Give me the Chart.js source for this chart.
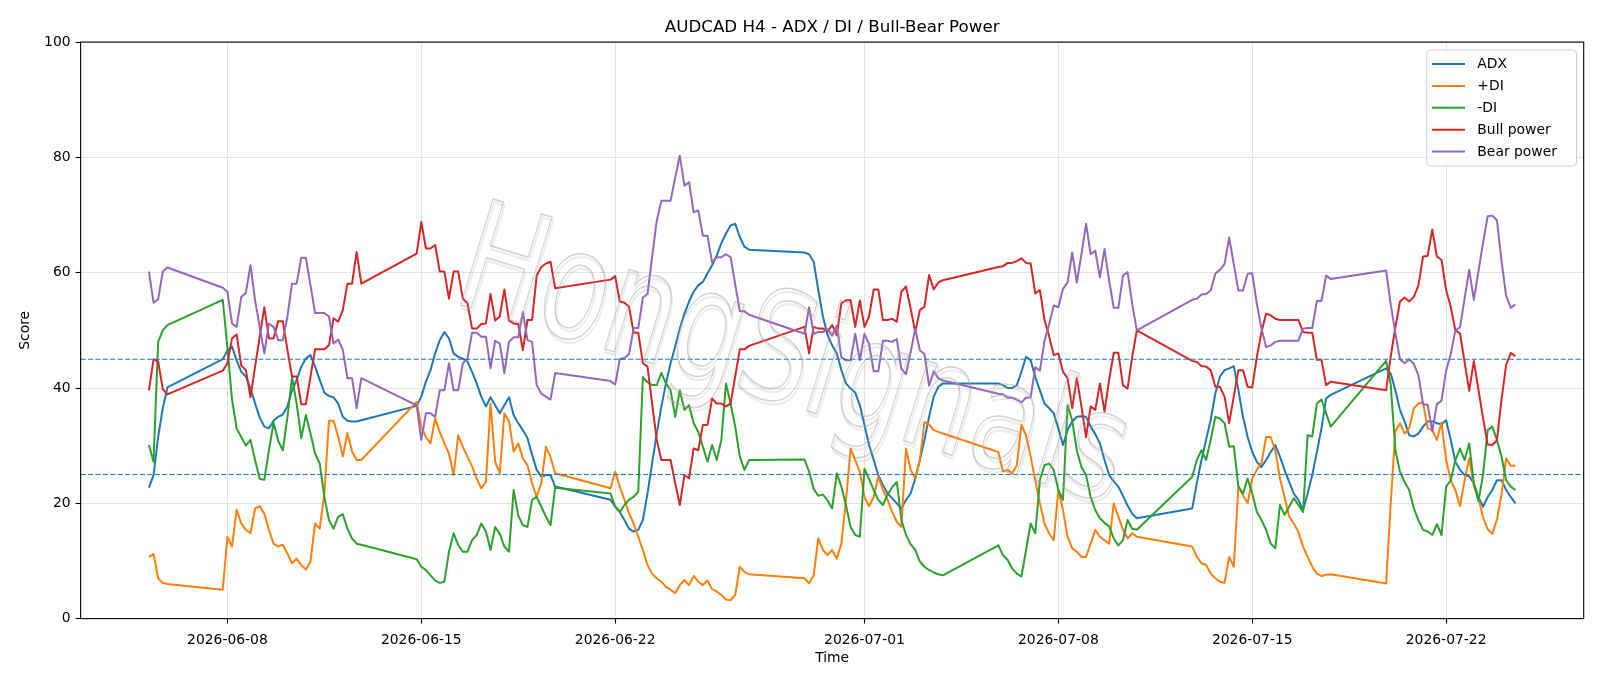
<!DOCTYPE html>
<html><head><meta charset="utf-8">
<script src="https://cdn.jsdelivr.net/npm/chart.js@4.4.1/dist/chart.umd.min.js"></script>
<style>html,body{margin:0;padding:0;background:#fff;}canvas{display:block;}</style>
</head><body>
<canvas id="c" width="1600" height="686"></canvas>
<script>
// H4 trading sessions: [first bar time (UTC), number of 4-hour bars]
const sessions = [
  ["2026-06-05T04:00", 5],
  ["2026-06-07T20:00", 31],
  ["2026-06-14T20:00", 31],
  ["2026-06-21T20:00", 31],
  ["2026-06-28T20:00", 31],
  ["2026-07-05T20:00", 31],
  ["2026-07-12T20:00", 31],
  ["2026-07-19T20:00", 29]
];
const tickDates = ["2026-06-08","2026-06-15","2026-06-22","2026-07-01","2026-07-08","2026-07-15","2026-07-22"];
const yTicks = [0,20,40,60,80,100];
const refLevels = [25, 45];

const adx = [
  22.7,24.9,31.5,36.5,40.1,
  45.0,46.5,47.2,44.8,42.8,42.0,39.9,37.3,34.9,33.3,33.0,34.3,35.0,35.4,36.8,39.6,41.4,43.7,45.1,45.7,43.7,41.4,39.2,38.6,38.4,37.3,35.0,34.3,34.2,34.2,34.4,
  36.9,38.5,41.1,43.1,46.0,48.3,49.7,48.6,46.0,45.4,45.1,44.6,42.8,40.8,38.5,36.8,38.4,37.0,35.6,37.0,38.4,35.3,33.9,32.7,31.3,28.4,25.8,24.6,24.9,24.9,22.9,
  20.6,19.4,18.5,17.1,15.6,15.1,15.4,17.1,21.7,26.9,32.1,36.8,40.8,44.3,47.2,50.3,52.9,55.0,56.7,57.8,58.4,59.9,61.3,63.0,65.1,66.8,68.2,68.5,66.2,64.5,64.0,
  63.5,63.2,61.9,57.0,52.4,49.2,47.4,46.0,43.1,40.8,39.9,39.2,37.0,33.6,30.1,27.5,24.9,23.2,21.7,20.9,20.0,19.1,20.6,21.7,24.3,27.5,31.0,35.0,38.5,40.2,40.8,
  40.8,40.5,40.0,40.0,40.5,42.8,45.4,44.8,41.9,39.6,37.3,36.5,35.6,33.0,30.1,32.7,34.2,35.0,35.1,35.0,33.3,32.0,30.4,27.5,24.9,23.8,22.9,21.3,19.6,18.2,17.4,
  19.1,23.5,27.5,31.0,34.5,39.0,42.0,43.1,43.4,43.8,39.6,35.0,31.5,28.9,27.2,26.3,27.5,28.9,30.1,28.1,25.8,23.7,21.7,20.6,18.8,21.7,24.9,28.9,33.0,38.2,38.8,
  43.4,42.5,39.6,36.2,34.2,31.8,31.6,32.1,33.3,34.2,34.2,33.9,33.7,34.4,31.0,27.2,25.8,24.9,24.7,23.5,21.1,19.4,21.1,22.3,24.0,24.0,22.3,21.1,20.0
];
const plusDI = [
  10.7,11.2,7.0,6.2,6.0,
  5.0,14.2,12.5,18.9,16.5,15.4,14.8,19.1,19.5,18.2,15.4,13.0,12.5,12.8,11.3,9.6,10.4,9.3,8.5,9.9,16.5,15.6,21.7,34.3,34.3,31.6,28.1,32.2,29.0,27.5,27.5,
  37.6,33.3,31.5,30.4,34.7,32.4,30.4,28.6,24.9,31.8,29.8,28.1,26.4,24.3,22.6,23.7,37.3,27.2,25.2,35.6,34.2,29.0,30.4,27.8,26.6,23.5,21.1,23.5,29.8,28.0,25.2,
  22.6,25.5,22.9,20.6,18.3,16.5,14.2,11.9,9.3,7.8,7.0,6.4,5.5,5.0,4.4,5.8,6.7,5.8,7.4,6.4,5.8,6.6,5.1,4.7,4.1,3.3,3.2,4.1,9.0,8.1,7.7,
  7.0,6.1,7.5,13.9,11.9,11.0,11.9,10.4,13.0,20.5,29.5,27.5,25.5,21.1,19.5,21.1,24.6,22.3,20.6,18.5,16.8,15.9,29.5,25.8,24.3,27.5,34.1,33.7,32.7,32.4,32.1,
  28.9,25.5,25.8,25.2,26.6,33.6,31.8,28.1,24.0,20.0,16.5,14.8,13.6,22.3,18.8,14.2,12.2,11.6,10.7,10.7,13.0,15.4,14.2,13.6,13.0,20.0,17.7,15.4,13.9,14.8,14.2,
  12.5,10.7,9.6,9.3,7.8,7.0,6.4,6.2,10.7,9.0,22.9,21.4,20.0,24.3,25.8,27.0,31.5,31.5,29.2,24.3,21.1,17.7,16.5,15.0,12.5,10.7,9.0,7.8,7.4,7.6,7.7,
  6.1,20.0,32.5,33.9,32.1,33.0,36.5,37.3,37.5,33.0,32.7,31.0,34.0,27.5,24.0,22.3,19.5,24.0,27.8,23.0,21.0,17.5,15.5,14.7,17.2,21.5,27.8,26.5,26.5
];
const minusDI = [
  30.1,27.2,48.0,50.0,50.9,
  55.3,47.0,38.0,33.0,31.5,30.0,31.0,27.5,24.2,24.1,29.2,34.0,30.8,29.2,34.9,41.9,37.3,31.3,35.3,32.1,28.6,26.9,21.1,17.1,15.6,17.7,18.1,15.6,13.9,13.0,12.8,
  10.3,9.0,8.4,7.5,6.6,6.2,6.4,11.6,14.8,12.8,11.6,11.6,13.6,14.5,16.5,15.1,11.9,15.9,14.7,12.5,11.6,22.3,17.9,16.2,15.9,20.6,21.1,19.4,17.7,16.2,22.7,
  21.7,19.4,18.5,19.7,20.6,21.1,22.0,41.9,41.0,40.5,40.5,42.6,40.8,39.6,35.0,39.6,36.2,37.0,33.9,32.4,29.8,27.2,30.1,27.5,31.0,40.8,37.3,33.3,28.1,25.8,27.5,
  27.6,25.5,22.5,21.3,21.5,20.5,19.1,25.2,22.9,19.6,15.9,14.5,14.2,26.0,24.2,22.3,20.6,19.7,21.5,22.8,23.7,17.1,14.5,12.9,11.9,9.9,9.0,8.4,8.0,7.7,7.5,
  12.7,11.0,10.2,8.7,7.8,7.3,11.9,16.5,14.8,24.0,26.6,26.9,25.8,22.3,20.6,37.0,34.4,29.2,26.3,24.9,21.1,18.8,17.4,16.6,16.0,13.9,12.7,13.6,17.1,15.6,15.4,
  24.6,27.5,29.2,27.5,31.0,35.0,34.7,33.9,29.8,29.9,22.9,21.7,24.3,21.7,18.5,17.1,15.4,13.0,12.2,19.7,18.0,19.4,20.9,19.7,18.5,31.8,31.6,37.3,38.0,35.6,33.3,
  44.7,40.6,29.2,25.5,23.7,22.3,19.1,17.1,15.4,15.1,14.5,16.4,14.5,22.9,24.0,27.5,29.5,27.5,30.4,23.5,20.3,25.0,32.7,33.3,31.0,28.1,24.0,22.9,22.3
];
const bullPower = [
  39.6,45.0,44.6,39.8,38.9,
  43.0,44.3,48.6,49.3,43.9,43.1,38.4,43.7,48.9,54.0,48.6,48.6,51.6,51.6,46.6,42.0,42.0,37.2,37.2,42.0,46.7,46.7,46.7,47.4,52.1,51.5,53.5,58.1,58.1,63.6,58.1,
  63.3,68.8,64.2,64.2,64.8,60.2,60.2,55.5,60.2,60.2,55.5,54.7,50.3,50.3,51.1,51.2,56.3,51.7,52.4,57.1,51.7,51.2,51.1,46.6,51.8,51.8,59.5,61.0,61.6,61.9,57.3,
  58.8,59.4,55.0,54.8,54.1,49.6,49.6,44.3,43.7,37.3,31.0,27.5,27.5,27.5,23.5,19.7,24.9,24.3,29.5,29.2,33.6,33.6,38.2,37.3,37.3,36.8,37.3,42.0,46.7,46.7,47.3,
  50.6,46.0,50.6,50.3,50.3,49.8,50.9,49.2,54.7,55.2,55.2,50.6,55.2,50.6,52.4,57.1,57.1,51.8,51.8,52.0,51.5,56.7,57.6,53.8,49.7,53.5,54.1,59.6,57.1,58.3,58.7,
  61.0,61.1,61.7,61.7,62.0,62.5,61.7,61.6,56.4,57.0,51.8,49.0,45.7,46.0,42.8,41.7,36.5,41.7,36.8,31.5,36.8,36.2,40.8,35.9,41.4,46.1,46.1,40.5,39.9,45.4,50.0,
  44.7,44.5,43.8,43.7,43.1,40.2,40.2,38.5,33.9,38.5,43.1,43.1,40.2,40.1,45.4,49.7,52.9,52.6,52.0,51.8,51.8,51.8,51.8,51.8,49.7,49.6,49.6,44.9,44.9,40.5,41.1,
  39.6,45.5,50.5,55.0,55.7,55.0,55.8,57.8,62.8,62.9,67.5,62.8,62.2,57.0,54.1,50.0,49.5,44.5,39.5,44.7,39.7,34.8,30.2,30.1,30.9,38.0,44.0,46.1,45.5
];
const bearPower = [
  60.2,54.8,55.4,60.2,60.9,
  57.4,56.7,51.2,50.6,55.8,56.5,61.3,55.2,50.6,46.0,51.2,50.6,48.3,48.3,52.4,58.1,58.1,62.6,62.6,57.8,53.0,53.0,53.0,52.4,47.7,48.4,46.6,41.7,41.7,36.5,41.7,
  37.0,31.0,35.6,35.6,35.0,39.6,39.6,44.3,39.6,39.6,44.3,45.1,49.6,49.6,48.9,48.9,43.4,48.2,47.7,42.6,48.0,48.8,48.8,53.2,48.3,48.0,40.5,39.0,38.5,38.0,42.6,
  41.2,40.6,45.0,45.2,45.9,50.4,50.4,55.7,56.3,62.7,69.0,72.5,72.5,72.5,76.5,80.3,75.1,75.7,70.5,70.8,66.4,66.4,61.8,62.7,62.7,63.2,62.7,58.0,53.3,53.3,52.7,
  49.4,54.0,49.4,49.7,49.7,50.2,49.1,50.8,45.3,44.8,44.8,49.4,44.8,49.4,47.6,42.9,42.9,48.2,48.2,48.0,48.5,43.3,42.4,46.2,50.3,46.5,45.9,40.4,42.9,41.7,41.3,
  39.0,38.9,38.3,38.3,38.0,37.5,38.3,38.4,43.6,43.0,48.2,51.0,54.3,54.0,57.2,58.3,63.5,58.3,63.2,68.5,63.2,63.8,59.2,64.1,58.6,53.9,53.9,59.5,60.1,54.6,50.0,
  55.3,55.5,56.2,56.3,56.9,59.8,60.5,61.5,66.1,61.5,56.9,56.9,59.8,59.9,54.6,50.3,47.1,47.4,48.0,48.2,48.2,48.2,48.2,48.2,50.3,50.4,50.4,55.1,55.1,59.5,58.9,
  60.4,54.5,49.5,45.0,44.3,45.0,44.2,42.2,37.2,37.1,32.5,37.2,37.8,43.0,45.9,50.0,50.5,55.5,60.5,55.3,60.3,65.2,69.8,69.9,69.1,62.0,56.0,53.9,54.5
];

const seriesDefs = [
  { label: "ADX",        data: adx,       color: "#1f77b4" },
  { label: "+DI",        data: plusDI,    color: "#ff7f0e" },
  { label: "-DI",        data: minusDI,   color: "#2ca02c" },
  { label: "Bull power", data: bullPower, color: "#d62728" },
  { label: "Bear power", data: bearPower, color: "#9467bd" }
];

// timestamps of every H4 bar
const xs = [];
for (const [start, n] of sessions) {
  const t0 = Date.parse(start + ":00Z");
  for (let i = 0; i < n; i++) xs.push(t0 + i * 4 * 3600 * 1000);
}
const span = xs[xs.length - 1] - xs[0];
const xMin = xs[0] - 0.05 * span, xMax = xs[xs.length - 1] + 0.05 * span;

const FONT = '"DejaVu Sans", sans-serif';
const PL = 80.6, PR = 1583.7, PT = 42.1, PB = 618.6;

const decor = {
  id: "decor",
  afterDatasetsDraw(chart) {
    const ctx = chart.ctx, ca = chart.chartArea, ys = chart.scales.y;
    ctx.save();
    ctx.beginPath(); ctx.rect(ca.left, ca.top, ca.right - ca.left, ca.bottom - ca.top); ctx.clip();
    // reference levels
    ctx.strokeStyle = "#1f77b4"; ctx.lineWidth = 1.1; ctx.setLineDash([5.2, 2.2]);
    for (const lv of refLevels) {
      const y = ys.getPixelForValue(lv);
      ctx.beginPath(); ctx.moveTo(ca.left, y); ctx.lineTo(ca.right, y); ctx.stroke();
    }
    ctx.setLineDash([]);
    // watermark
    ctx.translate(792, 365);
    ctx.rotate(17 * Math.PI / 180);
    ctx.scale(0.73, 1);
    ctx.font = "152px " + FONT;
    ctx.textAlign = "center"; ctx.textBaseline = "middle";
    ctx.lineWidth = 2.4;
    ctx.strokeStyle = "rgba(150,150,150,0.18)";
    ctx.strokeText("HongSignals", 3, 3);
    ctx.lineWidth = 1.6;
    ctx.strokeStyle = "rgba(165,165,165,0.5)";
    ctx.strokeText("HongSignals", 0, 0);
    ctx.restore();
  },
  afterDraw(chart) {
    const ctx = chart.ctx, ca = chart.chartArea;
    ctx.save();
    // frame
    ctx.strokeStyle = "#000"; ctx.lineWidth = 1.1;
    ctx.strokeRect(ca.left, ca.top, ca.right - ca.left, ca.bottom - ca.top);
    // title & axis labels
    ctx.fillStyle = "#000";
    ctx.font = "16.7px " + FONT; ctx.textAlign = "center"; ctx.textBaseline = "alphabetic";
    ctx.fillText("AUDCAD H4 - ADX / DI / Bull-Bear Power", (ca.left + ca.right) / 2, 31.5);
    ctx.font = "13.9px " + FONT; ctx.textBaseline = "middle";
    ctx.fillText("Time", (ca.left + ca.right) / 2, 658);
    ctx.save(); ctx.translate(25.5, (ca.top + ca.bottom) / 2); ctx.rotate(-Math.PI / 2);
    ctx.fillText("Score", 0, 0); ctx.restore();
    // legend
    const bx = 1426.7, by = 50, bw = 1576.5 - 1426.7, bh = 116, r = 4;
    ctx.beginPath();
    ctx.moveTo(bx + r, by); ctx.lineTo(bx + bw - r, by); ctx.quadraticCurveTo(bx + bw, by, bx + bw, by + r);
    ctx.lineTo(bx + bw, by + bh - r); ctx.quadraticCurveTo(bx + bw, by + bh, bx + bw - r, by + bh);
    ctx.lineTo(bx + r, by + bh); ctx.quadraticCurveTo(bx, by + bh, bx, by + bh - r);
    ctx.lineTo(bx, by + r); ctx.quadraticCurveTo(bx, by, bx + r, by); ctx.closePath();
    ctx.fillStyle = "rgba(255,255,255,0.8)"; ctx.fill();
    ctx.strokeStyle = "#cccccc"; ctx.lineWidth = 1; ctx.stroke();
    ctx.textAlign = "left"; ctx.textBaseline = "middle"; ctx.font = "13.9px " + FONT;
    seriesDefs.forEach((s, i) => {
      const y = 64 + i * 21.9;
      ctx.strokeStyle = s.color; ctx.lineWidth = 2;
      ctx.beginPath(); ctx.moveTo(1432, y); ctx.lineTo(1465, y); ctx.stroke();
      ctx.fillStyle = "#000"; ctx.fillText(s.label, 1477.3, y + 0.5);
    });
    ctx.restore();
  }
};

const n = seriesDefs.length;
new Chart(document.getElementById("c"), {
  type: "line",
  data: {
    datasets: seriesDefs.map((s, i) => ({
      label: s.label,
      data: s.data.map((v, j) => ({ x: xs[j], y: v })),
      borderColor: s.color, backgroundColor: s.color,
      borderWidth: 2, pointRadius: 0, tension: 0, fill: false,
      borderJoinStyle: "round", order: n - 1 - i
    }))
  },
  options: {
    responsive: false, animation: false, devicePixelRatio: 1,
    parsing: false, normalized: true,
    layout: { padding: { left: 0, right: 1600 - PR, top: PT, bottom: 0 } },
    plugins: { legend: { display: false }, tooltip: { enabled: false }, title: { display: false } },
    scales: {
      x: {
        type: "linear", min: xMin, max: xMax,
        afterFit: s => { s.height = 686 - PB; },
        afterBuildTicks: s => { s.ticks = tickDates.map(d => ({ value: Date.parse(d + "T00:00:00Z") })); },
        grid: { color: "#e3e3e3", lineWidth: 1, tickLength: 5, tickColor: "#000", tickWidth: 1.1, drawTicks: true },
        border: { display: false },
        ticks: {
          callback: v => new Date(v).toISOString().slice(0, 10),
          font: { family: "DejaVu Sans", size: 13.9 }, color: "#000", padding: 8, maxRotation: 0, autoSkip: false
        }
      },
      y: {
        min: 0, max: 100,
        afterFit: s => { s.width = PL; },
        afterBuildTicks: s => { s.ticks = yTicks.map(v => ({ value: v })); },
        grid: { color: "#e3e3e3", lineWidth: 1, tickLength: 5, tickColor: "#000", tickWidth: 1.1, drawTicks: true },
        border: { display: false },
        ticks: { font: { family: "DejaVu Sans", size: 13.9 }, color: "#000", padding: 5 }
      }
    }
  },
  plugins: [decor]
});
</script>
</body></html>
